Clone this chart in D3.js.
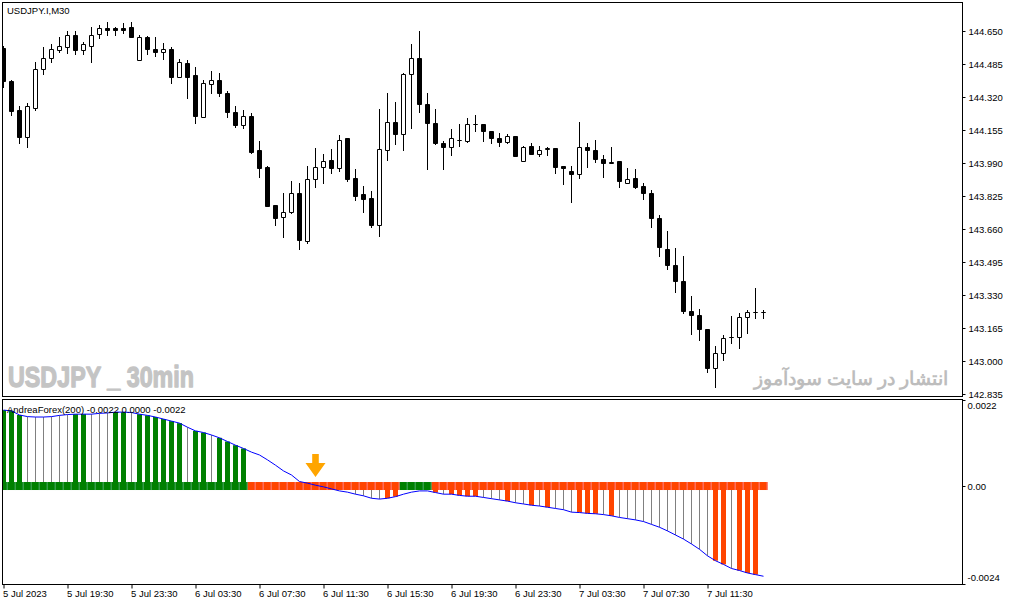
<!DOCTYPE html>
<html><head><meta charset="utf-8">
<script src="https://cdn.jsdelivr.net/npm/d3@7"></script>
<style>
body{margin:0;background:#fff;}
svg{display:block;}
text{font-family:"Liberation Sans",Arial,sans-serif;}
</style>
</head><body>
<svg id="chart" width="1009" height="606"></svg>
<script>
const symbolTitle = "USDJPY.I,M30";
const indicatorTitle = "AndreaForex(200) -0.0022 0.0000 -0.0022";
const watermarkLeft = "USDJPY _ 30min";
const watermarkRight = "انتشار در سایت سودآموز";

const timeLabels = ["5 Jul 2023","5 Jul 19:30","5 Jul 23:30","6 Jul 03:30","6 Jul 07:30","6 Jul 11:30",
  "6 Jul 15:30","6 Jul 19:30","6 Jul 23:30","7 Jul 03:30","7 Jul 07:30","7 Jul 11:30"];
const priceTicks = [144.650,144.485,144.320,144.155,143.990,143.825,143.660,143.495,143.330,143.165,143.000,142.835];
const indTicks = [0.0022, 0.0000, -0.0024];
const indTickLabels = ["0.0022","0.00","-0.0024"];

const open = [
144.565,144.400,144.255,144.120,144.265,144.455,144.515,144.550,144.570,144.630,
144.550,144.575,144.635,144.665,144.665,144.665,144.670,144.505,144.615,144.555,
144.545,144.555,144.420,144.485,144.425,144.220,144.385,144.405,144.340,144.245,
144.175,144.225,144.050,143.970,143.780,143.720,143.740,143.840,143.600,143.910,
143.970,144.005,143.960,144.110,143.915,143.830,143.815,143.675,144.050,144.195,
144.135,144.435,144.515,144.285,144.190,144.085,144.070,144.105,144.100,144.180,
144.180,144.145,144.110,144.095,144.125,144.000,144.075,144.035,144.055,144.065,
143.975,143.950,143.930,144.070,144.050,144.010,143.985,144.000,143.890,143.915,
143.875,143.835,143.710,143.560,143.480,143.400,143.250,143.230,143.160,142.960,
143.040,143.115,143.115,143.220,143.240,143.240];
const high = [
144.575,144.405,144.270,144.290,144.495,144.570,144.580,144.620,144.645,144.645,
144.595,144.670,144.675,144.695,144.670,144.690,144.695,144.630,144.625,144.620,
144.590,144.570,144.510,144.505,144.470,144.405,144.450,144.440,144.350,144.275,
144.255,144.235,144.100,143.975,143.780,143.840,143.895,143.890,143.975,144.065,
144.035,144.060,144.130,144.110,143.955,143.875,143.850,144.260,144.340,144.295,
144.440,144.580,144.650,144.340,144.260,144.100,144.160,144.180,144.210,144.230,
144.180,144.150,144.140,144.135,144.125,144.075,144.090,144.075,144.070,144.065,
143.975,143.975,144.195,144.090,144.105,144.030,144.070,144.000,143.960,143.955,
143.890,143.855,143.730,143.645,143.565,143.525,143.325,143.260,143.160,143.075,
143.130,143.225,143.235,143.255,143.360,143.255];
const low = [
144.365,144.230,144.090,144.070,144.255,144.430,144.490,144.545,144.540,144.535,
144.535,144.495,144.610,144.630,144.630,144.640,144.615,144.505,144.535,144.520,
144.510,144.390,144.420,144.315,144.190,144.220,144.340,144.325,144.220,144.170,
144.165,144.040,143.920,143.770,143.675,143.615,143.735,143.560,143.590,143.870,
143.890,143.940,143.950,143.895,143.800,143.740,143.670,143.625,144.005,144.080,
144.050,144.165,144.240,143.955,144.080,143.955,144.030,144.075,144.095,144.145,
144.100,144.090,144.075,144.090,144.025,144.000,144.035,144.025,144.030,143.940,
143.885,143.795,143.915,143.970,143.995,143.920,143.985,143.870,143.890,143.860,
143.810,143.670,143.525,143.455,143.345,143.235,143.135,143.105,142.945,142.870,
143.005,143.090,143.065,143.140,143.215,143.215];
const close = [
144.395,144.250,144.120,144.270,144.455,144.515,144.555,144.575,144.630,144.550,
144.580,144.630,144.665,144.655,144.655,144.655,144.620,144.620,144.560,144.545,
144.555,144.420,144.495,144.420,144.225,144.390,144.405,144.335,144.240,144.175,
144.225,144.045,143.965,143.775,143.710,143.745,143.840,143.605,143.910,143.970,
144.000,143.960,144.105,143.910,143.825,143.810,143.675,144.060,144.195,144.135,
144.430,144.515,144.285,144.190,144.085,144.070,144.110,144.105,144.180,144.180,
144.145,144.110,144.095,144.125,144.025,144.070,144.035,144.050,144.065,143.970,
143.965,143.930,144.070,144.050,144.010,143.985,143.995,143.895,143.910,143.870,
143.835,143.715,143.570,143.480,143.395,143.250,143.230,143.160,142.960,143.040,
143.110,143.115,143.220,143.240,143.240,143.240];

const indLine = [
0.00186,0.00184,0.00174,0.00170,0.00169,0.00169,0.00170,0.00173,0.00175,0.00176,
0.00176,0.00176,0.00178,0.00179,0.00181,0.00181,0.00180,0.00176,0.00173,0.00169,
0.00164,0.00159,0.00154,0.00144,0.00135,0.00131,0.00125,0.00118,0.00109,0.00100,
0.00092,0.00083,0.00076,0.00064,0.00051,0.00037,0.00027,0.00011,0.00007,0.00002,
-0.00002,-0.00007,-0.00012,-0.00015,-0.00020,-0.00024,-0.00030,-0.00032,-0.00030,-0.00026,
-0.00020,-0.00015,-0.00012,-0.00012,-0.00016,-0.00020,-0.00020,-0.00023,-0.00025,-0.00025,
-0.00028,-0.00031,-0.00034,-0.00037,-0.00041,-0.00044,-0.00047,-0.00049,-0.00052,-0.00055,
-0.00058,-0.00064,-0.00065,-0.00067,-0.00068,-0.00070,-0.00073,-0.00077,-0.00080,-0.00083,
-0.00087,-0.00094,-0.00101,-0.00110,-0.00120,-0.00130,-0.00142,-0.00155,-0.00171,-0.00183,
-0.00192,-0.00202,-0.00207,-0.00213,-0.00217,-0.00221];

// G = thick green, R = thick red, g = thin gray, - = none
const histStyle = ("GGGggggggGGgggGGgGGGGGGgGGgGGGG" + "-------------" + "ggggRR" + "----" +
  "RgRRRRgggRggRgRgggRRRgRg" + "ggggggggggg" + "RRgRRR").split("");
const bandState = ("G".repeat(31) + "R".repeat(19) + "G".repeat(4) + "R".repeat(42)).split("");
const signalBars = [39];

const svg = d3.select("#chart");
const N = open.length;
const L = 2.5, R = 962.5, mainTop = 2.5, mainBot = 396.5, indTop = 399.5, indBot = 584.5;

const x = d3.scaleLinear().domain([0, N - 1]).range([3.5, 3.5 + 8 * (N - 1)]);
const y = d3.scaleLinear().domain([142.835, 144.650]).range([394, 31]);
const yi = d3.scaleLinear().domain([-0.0024, 0.0022]).range([584, 396.2]);
const snap = v => Math.round(v - 0.5) + 0.5;

const defs = svg.append("defs");
defs.append("clipPath").attr("id", "clipMain").append("rect")
  .attr("x", 3).attr("y", 3).attr("width", 959).attr("height", 393);
defs.append("clipPath").attr("id", "clipInd").append("rect")
  .attr("x", 3).attr("y", 400).attr("width", 959).attr("height", 184);

// panel borders
svg.append("rect").attr("x", L).attr("y", mainTop).attr("width", R - L).attr("height", mainBot - mainTop)
  .attr("fill", "none").attr("stroke", "#000").attr("stroke-width", 1);
svg.append("rect").attr("x", L).attr("y", indTop).attr("width", R - L).attr("height", indBot - indTop)
  .attr("fill", "none").attr("stroke", "#000").attr("stroke-width", 1);

// watermarks
svg.append("text").attr("x", 8).attr("y", 387).text(watermarkLeft)
  .attr("font-family", "'Liberation Sans Narrow','Arial Narrow','Liberation Sans',Arial,sans-serif")
  .attr("font-weight", "bold").attr("font-size", 29).attr("fill", "#c4c4c4")
  .attr("stroke", "#c4c4c4").attr("stroke-width", 1.3).attr("stroke-linejoin", "round")
  .attr("textLength", 186).attr("lengthAdjust", "spacingAndGlyphs");
svg.append("text").attr("x", 948).attr("y", 385).text(watermarkRight)
  .attr("font-family", "'DejaVu Sans',sans-serif").attr("font-weight", "bold")
  .attr("font-size", 18.5).attr("fill", "#bdbdbd").attr("direction", "rtl").attr("text-anchor", "start");

// candles
const gC = svg.append("g").attr("clip-path", "url(#clipMain)");
const idx = d3.range(N);
gC.selectAll("line.wick").data(idx).join("line")
  .attr("x1", i => x(i)).attr("x2", i => x(i))
  .attr("y1", i => snap(y(high[i])) - 0.5).attr("y2", i => snap(y(low[i])) + 0.5)
  .attr("stroke", "#000").attr("stroke-width", 1);
gC.selectAll("path.body").data(idx).join("path")
  .attr("d", i => {
    const t = snap(y(Math.max(open[i], close[i]))), b = snap(y(Math.min(open[i], close[i])));
    const x0 = x(i) - 2, x1 = x(i) + 2;
    return `M${x0},${t}H${x1}V${b}H${x0}Z`;
  })
  .attr("fill", i => close[i] < open[i] ? "#000" : "#fff")
  .attr("stroke", "#000").attr("stroke-width", 1);

svg.append("text").attr("x", 7).attr("y", 13.5).text(symbolTitle)
  .attr("font-size", 9.5).attr("fill", "#000");

// price axis
const ax = svg.append("g").attr("transform", `translate(${R},0)`)
  .call(d3.axisRight(y).tickValues(priceTicks).tickSize(3).tickPadding(3).tickFormat(d3.format(".3f")));
ax.select(".domain").remove();
ax.selectAll("text").attr("font-size", 9.5).attr("font-family", "'Liberation Sans',Arial,sans-serif").attr("fill", "#000");

// indicator
const gI = svg.append("g").attr("clip-path", "url(#clipInd)");
const y0 = yi(0);
idx.forEach(i => {
  const s = histStyle[i], v = indLine[i];
  if (s === "G" || s === "R") {
    const a = Math.min(yi(v), y0), b = Math.max(yi(v), y0);
    gI.append("rect").attr("x", x(i) - 2.5).attr("width", 5).attr("y", a).attr("height", b - a)
      .attr("fill", s === "G" ? "#008000" : "#ff4500");
  } else if (s === "g") {
    gI.append("line").attr("x1", x(i)).attr("x2", x(i)).attr("y1", y0).attr("y2", yi(v))
      .attr("stroke", "#808080").attr("stroke-width", 1);
  }
});
gI.selectAll("rect.band").data(idx).join("rect")
  .attr("x", i => x(i) - 4).attr("width", 8).attr("y", y0 - 4).attr("height", 8)
  .attr("fill", i => bandState[i] === "G" ? "#008000" : "#ff4500");
gI.selectAll("line.sep").data(idx).join("line")
  .attr("x1", i => x(i) + 3.5).attr("x2", i => x(i) + 3.5).attr("y1", y0 - 4).attr("y2", y0 + 4)
  .attr("stroke", i => bandState[i] === "G" ? "#2f9a4f" : "#ff6a6a").attr("stroke-width", 1);
gI.append("path").datum(indLine)
  .attr("d", d3.line().x((d, i) => x(i)).y(d => yi(d)))
  .attr("fill", "none").attr("stroke", "#0000ff").attr("stroke-width", 1);

// signal arrow
gI.selectAll("path.sig").data(signalBars).join("path")
  .attr("transform", i => `translate(${x(i)},${y0 - 9})`)
  .attr("d", "M-3.3,-23L3.3,-23L3.3,-14L10,-14L0,0L-10,-14L-3.3,-14Z")
  .attr("fill", "#ffa500");

svg.append("text").attr("x", 7).attr("y", 412.5).text(indicatorTitle)
  .attr("font-size", 9.5).attr("fill", "#000");

// indicator axis
const ia = svg.append("g").attr("transform", `translate(${R},0)`);
indTicks.forEach((v, k) => {
  const ty = Math.min(Math.max(yi(v), 400.5), 584.5);
  ia.append("line").attr("x1", 0).attr("x2", 3).attr("y1", snap(ty)).attr("y2", snap(ty)).attr("stroke", "#000");
  const ly = Math.min(Math.max(yi(v) + 1, 406), 578);
  ia.append("text").attr("x", 5).attr("y", ly).attr("dy", "0.35em").text(indTickLabels[k])
    .attr("font-size", 9.5).attr("fill", "#000");
});

// time axis
const tickIdx = timeLabels.map((_, k) => k * 8);
const tx = svg.append("g").attr("transform", `translate(0,${indBot})`)
  .call(d3.axisBottom(x).tickValues(tickIdx).tickSize(4).tickPadding(2).tickFormat((d, k) => timeLabels[k]));
tx.select(".domain").remove();
tx.selectAll("text").attr("text-anchor", "start").attr("dx", -1).attr("font-size", 9.5)
  .attr("font-family", "'Liberation Sans',Arial,sans-serif").attr("fill", "#000");
</script>
</body></html>
